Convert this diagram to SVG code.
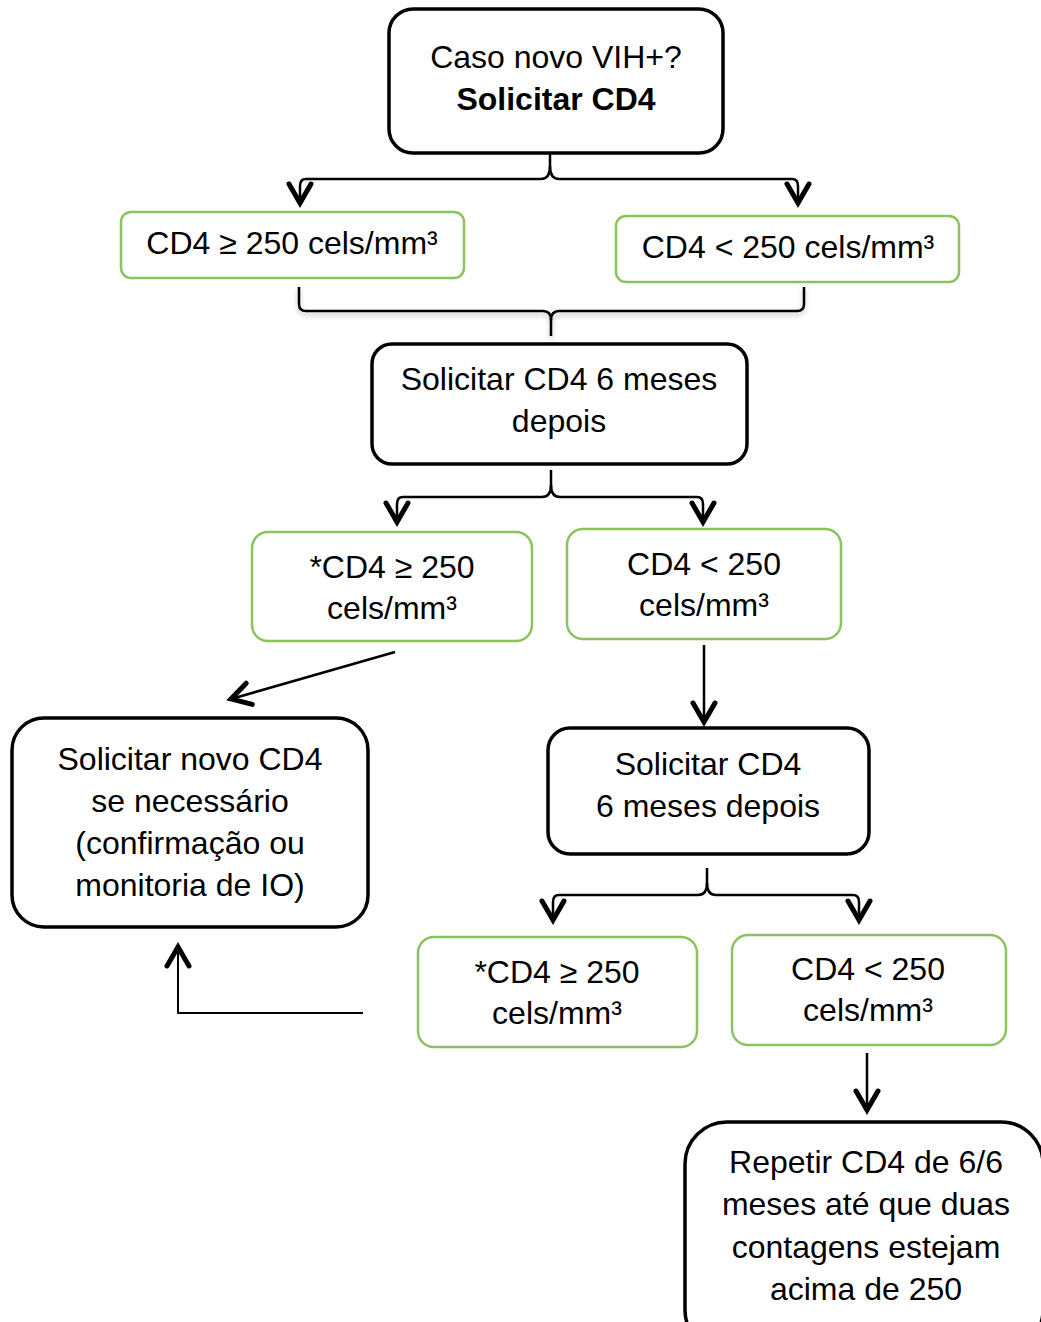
<svg xmlns="http://www.w3.org/2000/svg" width="1041" height="1322" viewBox="0 0 1041 1322">
  <defs>
    <marker id="vhead" markerUnits="userSpaceOnUse" markerWidth="30" markerHeight="30" viewBox="-22 -15 30 30" refX="0" refY="0" orient="auto" overflow="visible">
      <path d="M-19,-11 L0,0 L-19,11" fill="none" stroke="#000" stroke-width="5" stroke-linecap="round" stroke-linejoin="miter"/>
    </marker>
    <filter id="soft" x="-5%" y="-20%" width="110%" height="160%">
      <feDropShadow dx="0" dy="3" stdDeviation="2.5" flood-color="#000" flood-opacity="0.25"/>
    </filter>
    <style>
      .step { fill: #fff; stroke: #000; stroke-width: 3.5; }
      .result { fill: #fff; stroke: #8cc35f; stroke-width: 2.5; }
      .lbl { font-family: "Liberation Sans", Arial, sans-serif; font-size: 32px; fill: #000; text-anchor: middle; }
      .b { font-weight: bold; }
      .wire { fill: none; stroke: #000; stroke-width: 2.5; stroke-linejoin: round; }
      .arrow { marker-end: url(#vhead); }
    </style>
  </defs>

  <!-- connectors -->
  <g id="connectors">
    <!-- split below the first question -->
    <path class="wire arrow" d="M550,154 L550,166 Q550,179 541,179 L306,179 Q300,179 300,186 L300,203"/>
    <path class="wire arrow" d="M550,166 Q550,179 559,179 L792,179 Q798,179 798,186 L798,203"/>
    <!-- brace joining both first results -->
    <g filter="url(#soft)">
      <path class="wire" d="M299,287 L299,304 Q299,311 306,311 L543,311 Q551,311 551,320 L551,336"/>
      <path class="wire" d="M804,287 L804,304 Q804,311 797,311 L559,311 Q551,311 551,320"/>
    </g>
    <!-- split below "6 meses depois" -->
    <path class="wire arrow" d="M551,470 L551,485 Q551,497 542,497 L403,497 Q397,497 397,504 L397,522"/>
    <path class="wire arrow" d="M551,485 Q551,497 560,497 L697,497 Q703,497 703,504 L703,522"/>
    <!-- ≥250 to "Solicitar novo CD4" -->
    <path class="wire arrow" d="M395,652 L231,699"/>
    <!-- <250 to second "Solicitar CD4" -->
    <path class="wire arrow" d="M704,645 L704,722"/>
    <!-- split below the second "Solicitar CD4" -->
    <path class="wire arrow" d="M707,868 L707,883 Q707,895 698,895 L559,895 Q553,895 553,902 L553,920"/>
    <path class="wire arrow" d="M707,883 Q707,895 716,895 L853,895 Q859,895 859,902 L859,920"/>
    <!-- second ≥250 back to "Solicitar novo CD4" -->
    <path class="wire arrow" d="M363,1013 L178,1013 L178,947" style="stroke-width:2"/>
    <!-- second <250 to "Repetir CD4" -->
    <path class="wire arrow" d="M867,1053 L867,1110"/>
  </g>

  <g id="n-start">
    <rect class="step" x="389" y="9" width="334" height="144" rx="24"/>
    <text class="lbl" x="556" y="68">Caso novo VIH+?</text>
    <text class="lbl b" x="556" y="110">Solicitar CD4</text>
  </g>

  <g id="n-cd4-ge-250">
    <rect class="result" x="121" y="212" width="343" height="66" rx="10"/>
    <text class="lbl" x="292" y="254">CD4 ≥ 250 cels/mm³</text>
  </g>

  <g id="n-cd4-lt-250">
    <rect class="result" x="616" y="216" width="343" height="66" rx="10"/>
    <text class="lbl" x="788" y="258">CD4 &lt; 250 cels/mm³</text>
  </g>

  <g id="n-repeat-6m">
    <rect class="step" x="372" y="344" width="375" height="120" rx="20"/>
    <text class="lbl" x="559" y="390">Solicitar CD4 6 meses</text>
    <text class="lbl" x="559" y="432">depois</text>
  </g>

  <g id="n-6m-ge-250">
    <rect class="result" x="252" y="532" width="280" height="109" rx="16"/>
    <text class="lbl" x="392" y="578">*CD4 ≥ 250</text>
    <text class="lbl" x="392" y="619">cels/mm³</text>
  </g>

  <g id="n-6m-lt-250">
    <rect class="result" x="567" y="529" width="274" height="110" rx="16"/>
    <text class="lbl" x="704" y="575">CD4 &lt; 250</text>
    <text class="lbl" x="704" y="616">cels/mm³</text>
  </g>

  <g id="n-new-cd4">
    <rect class="step" x="12" y="718" width="356" height="209" rx="32"/>
    <text class="lbl" x="190" y="770">Solicitar novo CD4</text>
    <text class="lbl" x="190" y="812">se necessário</text>
    <text class="lbl" x="190" y="854">(confirmação ou</text>
    <text class="lbl" x="190" y="896">monitoria de IO)</text>
  </g>

  <g id="n-second-6m">
    <rect class="step" x="548" y="728" width="321" height="126" rx="22"/>
    <text class="lbl" x="708" y="775">Solicitar CD4</text>
    <text class="lbl" x="708" y="817">6 meses depois</text>
  </g>

  <g id="n-12m-ge-250">
    <rect class="result" x="418" y="937" width="279" height="110" rx="16"/>
    <text class="lbl" x="557" y="983">*CD4 ≥ 250</text>
    <text class="lbl" x="557" y="1024">cels/mm³</text>
  </g>

  <g id="n-12m-lt-250">
    <rect class="result" x="732" y="935" width="274" height="110" rx="16"/>
    <text class="lbl" x="868" y="980">CD4 &lt; 250</text>
    <text class="lbl" x="868" y="1021">cels/mm³</text>
  </g>

  <g id="n-repeat-every-6m">
    <rect class="step" x="685" y="1122" width="358" height="230" rx="42"/>
    <text class="lbl" x="866" y="1173">Repetir CD4 de 6/6</text>
    <text class="lbl" x="866" y="1215">meses até que duas</text>
    <text class="lbl" x="866" y="1258">contagens estejam</text>
    <text class="lbl" x="866" y="1300">acima de 250</text>
  </g>
</svg>
